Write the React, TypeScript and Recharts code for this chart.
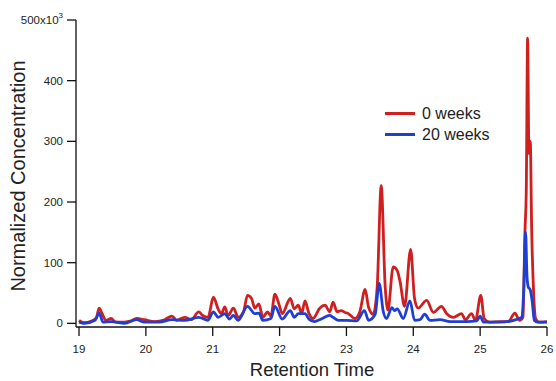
import React from "react";
import { LineChart, Line, XAxis, YAxis, Legend } from "recharts";

const redTimes = [19.0, 19.07, 19.19, 19.26, 19.3, 19.35, 19.4, 19.48, 19.55, 19.68, 19.78, 19.86, 19.98, 20.13, 20.28, 20.39, 20.46, 20.58, 20.68, 20.79, 20.85, 20.93, 21.01, 21.08, 21.13, 21.18, 21.23, 21.31, 21.38, 21.46, 21.52, 21.58, 21.63, 21.69, 21.75, 21.82, 21.87, 21.93, 21.99, 22.04, 22.16, 22.22, 22.28, 22.33, 22.38, 22.44, 22.5, 22.6, 22.68, 22.75, 22.8, 22.86, 22.92, 22.98, 23.03, 23.13, 23.2, 23.28, 23.33, 23.4, 23.46, 23.52, 23.58, 23.62, 23.7, 23.76, 23.8, 23.87, 23.96, 24.02, 24.07, 24.2, 24.3, 24.42, 24.5, 24.6, 24.72, 24.78, 24.87, 24.93, 25.01, 25.06, 25.14, 25.3, 25.42, 25.52, 25.59, 25.64, 25.67, 25.69, 25.71, 25.73, 25.75, 25.77, 25.8, 25.83, 25.88, 26.0];
const redValues = [5, 1, 4, 9, 25, 15, 5, 8, 2, 2, 4, 8, 6, 3, 6, 12, 5, 10, 6, 19, 13, 10, 43, 24, 16, 27, 13, 25, 10, 19, 46, 41, 25, 32, 10, 19, 12, 48, 32, 16, 41, 24, 30, 16, 37, 16, 8, 25, 30, 19, 35, 19, 21, 18, 16, 8, 19, 56, 27, 15, 60, 227, 60, 22, 93, 87, 70, 28, 122, 40, 25, 38, 18, 28, 16, 10, 16, 6, 16, 5, 46, 8, 2, 3, 3, 17, 5, 10, 150, 220, 470, 280, 300, 160, 50, 8, 2, 3];

const blueTimes = [19.0, 19.08, 19.24, 19.3, 19.36, 19.48, 19.68, 19.86, 19.98, 20.2, 20.39, 20.58, 20.79, 20.93, 21.01, 21.08, 21.18, 21.25, 21.31, 21.38, 21.52, 21.63, 21.69, 21.75, 21.87, 21.93, 22.04, 22.16, 22.22, 22.28, 22.38, 22.44, 22.52, 22.62, 22.75, 22.8, 22.88, 23.0, 23.15, 23.27, 23.33, 23.43, 23.49, 23.55, 23.6, 23.68, 23.72, 23.76, 23.85, 23.95, 24.02, 24.1, 24.17, 24.25, 24.4, 24.55, 24.8, 24.95, 25.0, 25.05, 25.3, 25.5, 25.62, 25.65, 25.68, 25.7, 25.72, 25.75, 25.78, 25.81, 25.86, 26.0];
const blueValues = [2, 0, 5, 17, 2, 3, 0, 6, 2, 2, 6, 5, 10, 5, 19, 10, 16, 7, 13, 5, 28, 16, 17, 5, 8, 28, 7, 21, 10, 16, 16, 7, 3, 7, 13, 10, 5, 5, 4, 21, 5, 15, 66, 20, 8, 26, 21, 24, 8, 37, 5, 6, 15, 5, 6, 3, 3, 4, 12, 2, 2, 5, 10, 50, 150, 80, 60, 55, 35, 5, 2, 2];

const xTicks = [19, 20, 21, 22, 23, 24, 25, 26];
const yTicks = [0, 100, 200, 300, 400, 500];

const seriesNames = ["0 weeks", "20 weeks"];
const seriesColors = ["#d01f1f", "#1f3fd4"];

const redData = redTimes.map((t, i) => ({ t, v: redValues[i] }));
const blueData = blueTimes.map((t, i) => ({ t, v: blueValues[i] }));

const FONT = "'Liberation Sans', Arial, sans-serif";

const YTick = (props: any) => {
  const { x, y, payload } = props;
  const v = payload.value;
  if (v === 500) {
    return (
      <text x={x} y={y} dy="0.35em" textAnchor="end" fontSize={11.5} fill="#222" fontFamily={FONT}>
        <tspan>500x10</tspan>
        <tspan dy={-6} fontSize={8}>3</tspan>
      </text>
    );
  }
  return (
    <text x={x} y={y} dy="0.35em" textAnchor="end" fontSize={11.5} fill="#222" fontFamily={FONT}>
      {v}
    </text>
  );
};

const YLabel = () => (
  <text
    x={25}
    y={176}
    transform="rotate(-90 25 176)"
    textAnchor="middle"
    fontSize={20}
    fill="#222"
    fontFamily={FONT}
  >
    Normalized Concentration
  </text>
);

const XLabel = () => (
  <text x={312} y={376} textAnchor="middle" fontSize={18.5} fill="#222" fontFamily={FONT}>
    Retention Time
  </text>
);

const LegendContent = () => (
  <div style={{ fontFamily: FONT, fontSize: 16, color: "#222" }}>
    {seriesNames.map((name, i) => (
      <div key={name} style={{ display: "flex", alignItems: "center", height: 21 }}>
        <svg width={37} height={21}>
          <line x1={0} y1={10.5} x2={30} y2={10.5} stroke={seriesColors[i]} strokeWidth={3} />
        </svg>
        <span style={{ lineHeight: "21px" }}>{name}</span>
      </div>
    ))}
  </div>
);

export default function App() {
  return (
    <div style={{ position: "absolute", left: 0, top: 0, width: 556, height: 381, background: "#fff" }}>
      <LineChart width={556} height={381} margin={{ top: 20, right: 9, bottom: 24, left: 0 }}>
        <XAxis
          dataKey="t"
          type="number"
          domain={[18.955, 26]}
          ticks={xTicks}
          allowDataOverflow
          height={30}
          tickSize={9}
          tickMargin={9}
          stroke="#111"
          strokeWidth={1.3}
          tick={{ fontSize: 11.5, fill: "#222", fontFamily: FONT }}
          label={<XLabel />}
        />
        <YAxis
          type="number"
          domain={[-6, 500]}
          ticks={yTicks}
          allowDataOverflow
          width={76}
          tickSize={9}
          tickMargin={4}
          stroke="#111"
          strokeWidth={1.3}
          tick={<YTick />}
          label={<YLabel />}
        />
        <Legend
          layout="horizontal"
          verticalAlign="middle"
          align="center"
          content={<LegendContent />}
          wrapperStyle={{ position: "absolute", left: 385, top: 103, width: "auto", height: "auto" }}
        />
        <Line
          data={redData}
          dataKey="v"
          name={seriesNames[0]}
          type="monotone"
          stroke={seriesColors[0]}
          strokeWidth={2.8}
          dot={false}
          isAnimationActive={false}
        />
        <Line
          data={blueData}
          dataKey="v"
          name={seriesNames[1]}
          type="monotone"
          stroke={seriesColors[1]}
          strokeWidth={2.8}
          dot={false}
          isAnimationActive={false}
        />
      </LineChart>
    </div>
  );
}
